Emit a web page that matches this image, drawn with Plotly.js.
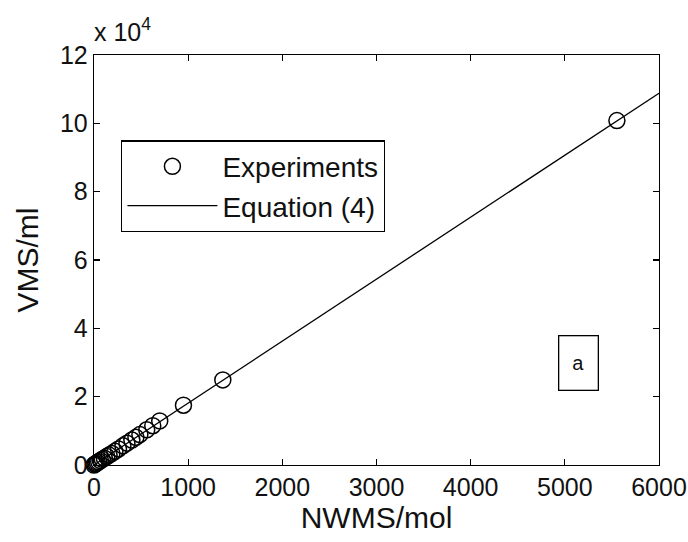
<!DOCTYPE html>
<html>
<head>
<meta charset="utf-8">
<script src="https://cdn.plot.ly/plotly-3.0.1.min.js"></script>
<style>html,body{margin:0;padding:0;background:#fff;}#chart{width:688px;height:542px;}</style>
</head>
<body>
<div id="chart"></div>
<script>
var expX = [0, 10, 22, 35, 50, 68, 88, 110, 135, 160, 190, 222, 260, 307, 350, 402, 445, 487, 560, 624, 698, 950, 1368, 5553];
var expY = [0, 250, 450, 700, 950, 1300, 1650, 2000, 2500, 2900, 3400, 4000, 4700, 5600, 6400, 7300, 8100, 8900, 10300, 11500, 12900, 17500, 24900, 100800];
// Equation (4) line endpoints
var eqX = [0, 6000];
var eqY = [0, 108800];
// Axis ticks
var xTicks = [0, 1000, 2000, 3000, 4000, 5000, 6000];
var yTickVals = [0, 20000, 40000, 60000, 80000, 100000, 120000];
var yTickText = ['0', '2', '4', '6', '8', '10', '12'];

var font = 'Liberation Sans, Arial, sans-serif';

var traces = [
  {
    x: expX, y: expY, mode: 'markers', name: 'Experiments',
    marker: {symbol: 'circle-open', size: 16, color: '#000', line: {width: 1.5, color: '#000'}},
    cliponaxis: false
  },
  {
    x: eqX, y: eqY, mode: 'lines', name: 'Equation (4)',
    line: {color: '#000', width: 1.3}
  }
];

var axisCommon = {
  showline: true, linecolor: '#000', linewidth: 1.3, mirror: 'allticks',
  ticks: 'inside', ticklen: 6, tickwidth: 1.3, tickcolor: '#000',
  showgrid: false, zeroline: false,
  tickfont: {family: font, size: 25, color: '#111'}
};

var layout = {
  width: 688, height: 542,
  margin: {l: 94, r: 29, t: 55, b: 77},
  paper_bgcolor: '#fff', plot_bgcolor: '#fff',
  font: {family: font, color: '#000'},
  showlegend: true,
  legend: {
    x: 0.048, y: 0.792, xanchor: 'left', yanchor: 'top',
    bordercolor: '#000', borderwidth: 1.3, bgcolor: '#fff',
    font: {family: font, size: 28, color: '#111'},
    itemwidth: 90, tracegroupgap: 0
  },
  xaxis: Object.assign({}, axisCommon, {
    range: [0, 6000], tickvals: xTicks,
    title: {text: 'NWMS/mol', font: {family: font, size: 30, color: '#111'}, standoff: 4}
  }),
  yaxis: Object.assign({}, axisCommon, {
    range: [0, 120000], tickvals: yTickVals, ticktext: yTickText,
    title: {text: 'VMS/ml', font: {family: font, size: 30, color: '#111'}, standoff: 12}
  }),
  annotations: [
    {
      xref: 'paper', yref: 'paper', x: -0.003, y: 1.018, xanchor: 'left', yanchor: 'bottom',
      text: 'x 10<sup>4</sup>', showarrow: false,
      font: {family: font, size: 25, color: '#111'}
    },
    {
      xref: 'x', yref: 'y', x: 5140, y: 30000, text: 'a', showarrow: false,
      font: {family: font, size: 20, color: '#111'},
      bordercolor: '#000', borderwidth: 1.3, borderpad: 0, width: 38, height: 53,
      bgcolor: '#fff'
    }
  ]
};

Plotly.newPlot('chart', traces, layout, {staticPlot: true, displayModeBar: false});
</script>
</body>
</html>
